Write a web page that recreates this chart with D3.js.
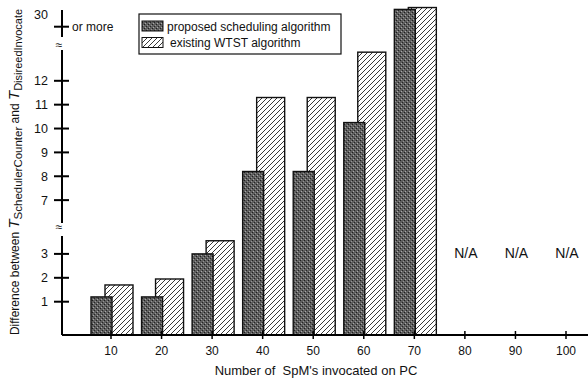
<!DOCTYPE html>
<html><head><meta charset="utf-8">
<script src="https://cdn.jsdelivr.net/npm/d3@7"></script>
<style>
body{margin:0;background:#fff}
svg{display:block}
text{font-family:"Liberation Sans",Arial,Helvetica,sans-serif;fill:#111;white-space:pre}
</style>
</head><body>
<svg id="c" width="588" height="380"></svg>
<script>
// ---- data ----
const categories = [10, 20, 30, 40, 50, 60, 70, 80, 90, 100];
const proposed = [1.2, 1.2, 3.0, 8.2, 8.2, 10.25, 31.85, null, null, null];
const existing = [1.7, 1.95, 3.55, 11.3, 11.3, 13.2, 32.05, null, null, null];
const seriesNames = ["proposed scheduling algorithm", "existing WTST algorithm"];
const yTickValues = [1, 2, 3, 7, 8, 9, 10, 11, 12, 30];
const yTickLabels = ["1", "2", "3", "7", "8", "9", "10", "11", "12", "30"];
const naLabel = "N/A";
const xTitle = "Number of  SpM's invocated on PC";
const yTitleParts = ["Difference between ", "T", "SchedulerCounter", " and ", "T", "DisireedInvocate"];
const topNote = "or more";

// ---- scales ----
const svg = d3.select("#c");
const x = d3.scaleLinear().domain([10, 100]).range([111, 566]);
// broken axis: polylinear scale with compressed segments at the breaks
const y = d3.scaleLinear()
  .domain([0, 1, 4, 6, 13.5, 30, 32])
  .range([335, 301.7, 230, 224, 45, 26.7, 8]);
const axisX = 62, baseY = y(0);

// ---- patterns ----
const defs = svg.append("defs");
const pd = defs.append("pattern").attr("id", "dots").attr("patternUnits", "userSpaceOnUse")
  .attr("width", 4).attr("height", 4);
pd.append("rect").attr("width", 4).attr("height", 4).attr("fill", "#5e5e5e");
pd.append("rect").attr("x", 0).attr("y", 0).attr("width", 1).attr("height", 1).attr("fill", "#1e1e1e");
pd.append("rect").attr("x", 2).attr("y", 2).attr("width", 1).attr("height", 1).attr("fill", "#252525");
pd.append("rect").attr("x", 1).attr("y", 3).attr("width", 1).attr("height", 1).attr("fill", "#a8a8a8");
pd.append("rect").attr("x", 3).attr("y", 1).attr("width", 1).attr("height", 1).attr("fill", "#959595");
const ph = defs.append("pattern").attr("id", "hatch").attr("patternUnits", "userSpaceOnUse")
  .attr("width", 5).attr("height", 5);
ph.append("rect").attr("width", 5).attr("height", 5).attr("fill", "#fff");
ph.append("path").attr("d", "M-1,1 l2,-2 M0,5 l5,-5 M4,6 l2,-2")
  .attr("stroke", "#222").attr("stroke-width", 0.9);

// ---- bars ----
const rows = categories.map((c, i) => ({c, p: proposed[i], e: existing[i]}));
const bars = rows.filter(d => d.p != null);
svg.append("g").selectAll("rect").data(bars).join("rect")
  .attr("x", d => x(d.c) - 6).attr("width", 28)
  .attr("y", d => y(d.e)).attr("height", d => baseY - y(d.e))
  .attr("fill", "url(#hatch)").attr("stroke", "#111").attr("stroke-width", 1.4);
svg.append("g").selectAll("rect").data(bars).join("rect")
  .attr("x", d => x(d.c) - 20).attr("width", 21)
  .attr("y", d => y(d.p)).attr("height", d => baseY - y(d.p))
  .attr("fill", "url(#dots)").attr("stroke", "#111").attr("stroke-width", 1.4);

// ---- N/A labels ----
svg.append("g").selectAll("text").data(rows.filter(d => d.p == null)).join("text")
  .attr("x", d => x(d.c) + 1).attr("y", 258).attr("text-anchor", "middle")
  .attr("font-size", 14).text(naLabel);

// ---- x axis ----
svg.append("line").attr("x1", axisX).attr("x2", 588).attr("y1", baseY).attr("y2", baseY)
  .attr("stroke", "#000").attr("stroke-width", 2);
svg.append("g").selectAll("line").data(categories).join("line")
  .attr("x1", d => x(d)).attr("x2", d => x(d)).attr("y1", baseY - 4).attr("y2", baseY + 4)
  .attr("stroke", "#000").attr("stroke-width", 1.5);
svg.append("g").selectAll("text").data(categories).join("text")
  .attr("x", d => x(d)).attr("y", 355).attr("text-anchor", "middle")
  .attr("font-size", 12).text(d => d);
svg.append("text").attr("x", 316).attr("y", 375).attr("text-anchor", "middle")
  .attr("font-size", 13).text(xTitle);

// ---- y axis (broken) ----
const segs = [[y(32) + 2, y(13.5) - 8], [y(13.5) + 5, y(6) - 1], [y(4) + 6, baseY]];
svg.append("g").selectAll("line").data(segs).join("line")
  .attr("x1", axisX).attr("x2", axisX).attr("y1", d => d[0]).attr("y2", d => d[1])
  .attr("stroke", "#000").attr("stroke-width", 2);
svg.append("g").selectAll("text").data([13.5, 5]).join("text")
  .attr("x", axisX - 3).attr("y", d => y(d)).attr("dy", "0.35em").attr("text-anchor", "middle")
  .attr("font-size", 12).text("≈");
svg.append("g").selectAll("line").data(yTickValues).join("line")
  .attr("x1", axisX - 8).attr("x2", axisX + 7).attr("y1", d => y(d)).attr("y2", d => y(d))
  .attr("stroke", "#000").attr("stroke-width", 2);
svg.append("g").selectAll("text").data(yTickValues).join("text")
  .attr("x", 48).attr("y", d => y(d) - (d === 30 ? 12 : 0)).attr("dy", "0.35em")
  .attr("text-anchor", "end").attr("font-size", 12.5)
  .text((d, i) => yTickLabels[i]);
svg.append("text").attr("x", 72).attr("y", y(30)).attr("dy", "0.35em")
  .attr("font-size", 12).text(topNote);

// ---- y title ----
const yt = svg.append("text").attr("transform", "translate(19,172) rotate(-90)")
  .attr("text-anchor", "middle").attr("font-size", 12);
yt.append("tspan").text(yTitleParts[0]);
yt.append("tspan").attr("font-size", 15).attr("font-style", "italic").text(yTitleParts[1]);
yt.append("tspan").attr("font-size", 11.5).attr("dy", 3).text(yTitleParts[2]);
yt.append("tspan").attr("dy", -3).text(yTitleParts[3]);
yt.append("tspan").attr("font-size", 15).attr("font-style", "italic").text(yTitleParts[4]);
yt.append("tspan").attr("font-size", 11).attr("dy", 3).text(yTitleParts[5]);

// ---- legend ----
const lg = svg.append("g");
lg.append("rect").attr("x", 139).attr("y", 14).attr("width", 202).attr("height", 40)
  .attr("fill", "#fff").attr("stroke", "#111").attr("stroke-width", 1.2);
const fills = ["url(#dots)", "url(#hatch)"];
lg.selectAll("rect.sw").data(seriesNames).join("rect").attr("class", "sw")
  .attr("x", 142).attr("y", (d, i) => 21 + i * 16.5).attr("width", 21).attr("height", 10)
  .attr("fill", (d, i) => fills[i]).attr("stroke", "#111").attr("stroke-width", 1);
lg.selectAll("text").data(seriesNames).join("text")
  .attr("x", (d, i) => 167 + i * 3).attr("y", (d, i) => 30.5 + i * 16.5)
  .attr("font-size", 12).text(d => d);
</script>
</body></html>
